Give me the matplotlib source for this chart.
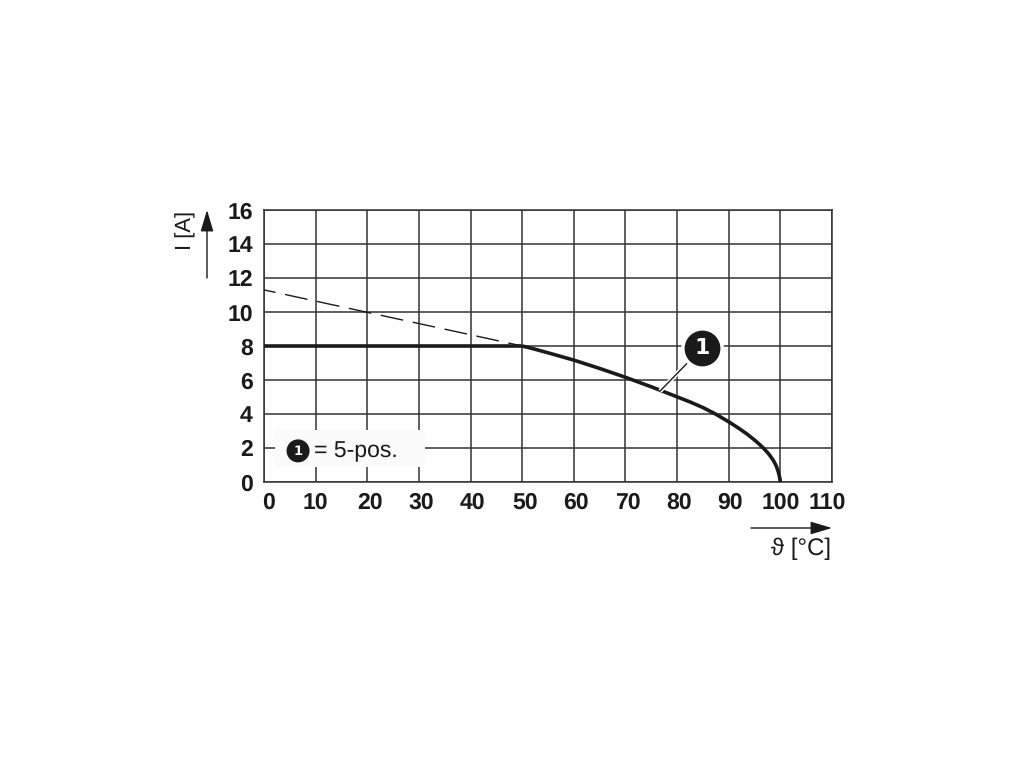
import matplotlib
matplotlib.use('Agg')
import matplotlib.pyplot as plt
from matplotlib.patches import Rectangle, FancyArrowPatch
from matplotlib.transforms import ScaledTranslation

plt.rcParams['font.family'] = ['Liberation Sans', 'DejaVu Sans']
plt.rcParams['text.hinting'] = 'no_hinting'
plt.rcParams['text.hinting_factor'] = 1

# data
x_ticks = [0, 10, 20, 30, 40, 50, 60, 70, 80, 90, 100, 110]
y_ticks = [0, 2, 4, 6, 8, 10, 12, 14, 16]
flat_x = [0, 50]
flat_y = [8, 8]
curve_x = [50, 52, 55, 60, 65, 70, 75, 80, 82.5, 85, 87.5, 90, 92, 93.5, 95, 96, 96.7, 97.7, 98.6, 99.2, 99.6, 99.9, 100]
curve_y = [8, 7.85, 7.6, 7.17, 6.68, 6.16, 5.6, 5.01, 4.71, 4.38, 3.99, 3.54, 3.15, 2.83, 2.47, 2.2, 2.0, 1.67, 1.29, 0.95, 0.6, 0.22, 0]
dash_x = [0, 50]
dash_y = [11.3, 8]
# horizontal shift of x tick labels, in px
x_label_shift = [4, 0, 3, 2, 2, 3, 2, 2, 2, 1, 0, -5]

ink = '#1a1a1a'
grid = '#333333'

fig = plt.figure(figsize=(10.2, 7.65), dpi=100)
ax = fig.add_axes([264 / 1020, 1 - 482 / 765, 568 / 1020, 272 / 765])
ax.set_xlim(0, 110)
ax.set_ylim(0, 16)

# grid
ax.set_xticks(x_ticks)
ax.set_yticks(y_ticks)
ax.set_xticklabels(x_ticks, fontsize=16.5, fontweight='bold', color=ink)
ax.set_yticklabels(y_ticks, fontsize=16.5, fontweight='bold', color=ink)
ax.tick_params(axis='x', length=0, pad=7)
ax.tick_params(axis='y', length=0, pad=8)
ax.grid(True, color=grid, lw=1.1, zorder=1)
ax.set_axisbelow(True)
for s in ax.spines.values():
    s.set_color(grid)
    s.set_linewidth(1.1)

for lab, dx in zip(ax.get_xticklabels(), x_label_shift):
    lab.set_transform(lab.get_transform() + ScaledTranslation(dx / 100, 0, fig.dpi_scale_trans))

# curves
ax.plot(dash_x, dash_y, color=ink, lw=1.0, linestyle=(8, (16.5, 7)), zorder=3)
ax.plot(flat_x, flat_y, color=ink, lw=2.6, zorder=4, clip_on=False, solid_capstyle='butt')
ax.plot(curve_x, curve_y, color=ink, lw=2.6, zorder=4, clip_on=False, solid_capstyle='butt')

# callout 1
ax.plot([84.8, 76.7], [7.88, 5.35], color='white', lw=3.2, zorder=5, solid_capstyle='butt')
ax.plot([84.8, 76.7], [7.88, 5.35], color=ink, lw=1.0, zorder=6, solid_capstyle='butt')
ax.scatter([84.8], [7.88], s=800, color=ink, edgecolor='white', linewidth=2.5, zorder=7)
ax.text(84.8, 7.86, '1', color='white', fontsize=16, fontweight='bold',
        family='DejaVu Sans', ha='center', va='center', zorder=8)

# legend box
ax.add_patch(Rectangle((2.1, 0.9), 29, 2.15, facecolor='#fbfbfb', edgecolor='none', zorder=2.5))
ax.scatter([6.6], [1.83], s=275, color=ink, edgecolor='none', zorder=6)
ax.text(6.6, 1.78, '1', color='white', fontsize=9.5, fontweight='bold',
        family='DejaVu Sans', ha='center', va='center', zorder=7)
ax.text(9.7, 1.83, '= 5-pos.', color=ink, fontsize=16.3, ha='left', va='center', zorder=6)

# axis arrows, in figure pixels
def px(x, y):
    return (x / 1020, 1 - y / 765)

for start, end in [((207, 278), (207, 210)), ((751, 528), (832, 528))]:
    fig.add_artist(FancyArrowPatch(
        px(*start), px(*end), transform=fig.transFigure,
        arrowstyle='-|>,head_length=1.1,head_width=0.33', mutation_scale=12,
        color=ink, lw=1.0, shrinkA=0, shrinkB=0))

fig.text(*px(186, 230), 'I [A]', rotation=90, fontsize=15.5, color=ink, ha='center', va='center')
fig.text(*px(831, 548.5), 'ϑ [°C]', fontsize=17, color=ink, ha='right', va='center')

fig.savefig('out.png', dpi=100, facecolor='white')
